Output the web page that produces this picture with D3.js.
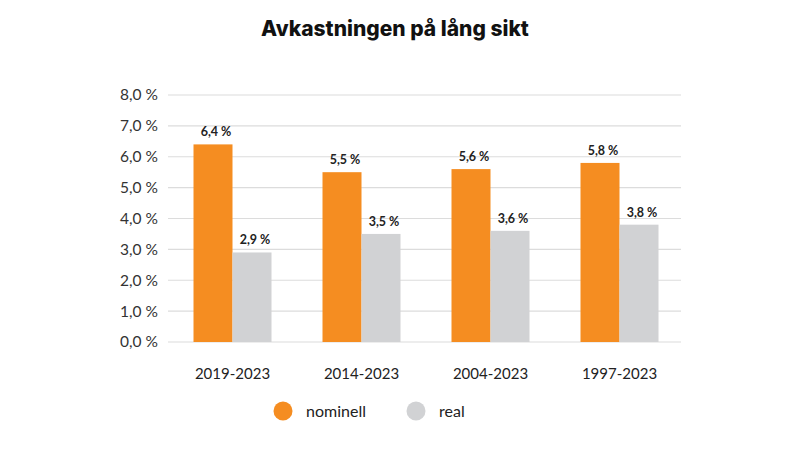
<!DOCTYPE html>
<html><head><meta charset="utf-8">
<script src="https://cdn.jsdelivr.net/npm/d3@7"></script>
<style>
body{margin:0;background:#fff;}
svg text{font-family:Lato,"Open Sans",sans-serif;}
</style></head>
<body><svg id="c" width="790" height="466"></svg>
<script>
const title = "Avkastningen på lång sikt";
const categories = ["2019-2023","2014-2023","2004-2023","1997-2023"];
const nominell = [6.4, 5.5, 5.6, 5.8];
const real = [2.9, 3.5, 3.6, 3.8];
const seriesNames = ["nominell","real"];
const yTicks = [0,1,2,3,4,5,6,7,8];

const colors = {nominell:"#f58d21", real:"#d1d2d4"};
const svg = d3.select("#c");
const fmt = v => v.toFixed(1).replace(".", ",") + " %";

const y = d3.scaleLinear().domain([0,8]).range([342,95]);
const x = d3.scaleBand().domain(categories).range([168,684]).padding(0);
const barW = 39;

svg.append("text").attr("x",395).attr("y",36).attr("text-anchor","middle")
  .style("font-family","Inter, Roboto, sans-serif").style("font-weight","800")
  .style("font-size","21px").attr("fill","#111").text(title);

// gridlines
svg.append("g").selectAll("line").data(yTicks).join("line")
  .attr("x1",168).attr("x2",681).attr("y1",d=>y(d)).attr("y2",d=>y(d))
  .attr("stroke","#dcdcdc").attr("stroke-width",1.2);

// y axis labels
const yAxis = d3.axisLeft(y).tickValues(yTicks).tickFormat(fmt).tickSize(0).tickPadding(0);
const ga = svg.append("g").attr("transform","translate(158,0)").call(yAxis);
ga.select(".domain").remove();
ga.selectAll("text").style("font-size","15.5px").attr("fill","#333").style("font-family","Lato, sans-serif");

// bars
const data = categories.map((c,i)=>({c, vals:[{k:"nominell",v:nominell[i]},{k:"real",v:real[i]}]}));
const groups = svg.append("g").selectAll("g").data(data).join("g")
  .attr("transform",d=>`translate(${x(d.c)+x.bandwidth()/2},0)`);
groups.selectAll("rect").data(d=>d.vals).join("rect")
  .attr("x",(d,i)=> i===0 ? -barW : 0).attr("width",barW)
  .attr("y",d=>y(d.v)).attr("height",d=>y(0)-y(d.v)).attr("fill",d=>colors[d.k]);
groups.selectAll("text").data(d=>d.vals).join("text")
  .attr("x",(d,i)=> (i===0 ? -barW : 0) + barW/2 + 3).attr("y",d=>y(d.v)-8)
  .attr("text-anchor","middle").style("font-size","12.5px").style("font-weight","700")
  .attr("fill","#222").text(d=>fmt(d.v));

// x labels
const xAxis = d3.axisBottom(x).tickSize(0).tickPadding(0);
const gx = svg.append("g").attr("transform","translate(0,368)").call(xAxis);
gx.select(".domain").remove();
gx.selectAll("text").style("font-size","15px").attr("fill","#222").style("font-family","Lato, sans-serif");

// legend
const legX = [283, 416];
const leg = svg.append("g").selectAll("g").data(seriesNames).join("g")
  .attr("transform",(d,i)=>`translate(${legX[i]},411)`);
leg.append("circle").attr("r",9.5).attr("fill",d=>colors[d]);
leg.append("text").attr("x",23).attr("y",6).style("font-size","16px").attr("fill","#222").text(d=>d);
</script></body></html>
